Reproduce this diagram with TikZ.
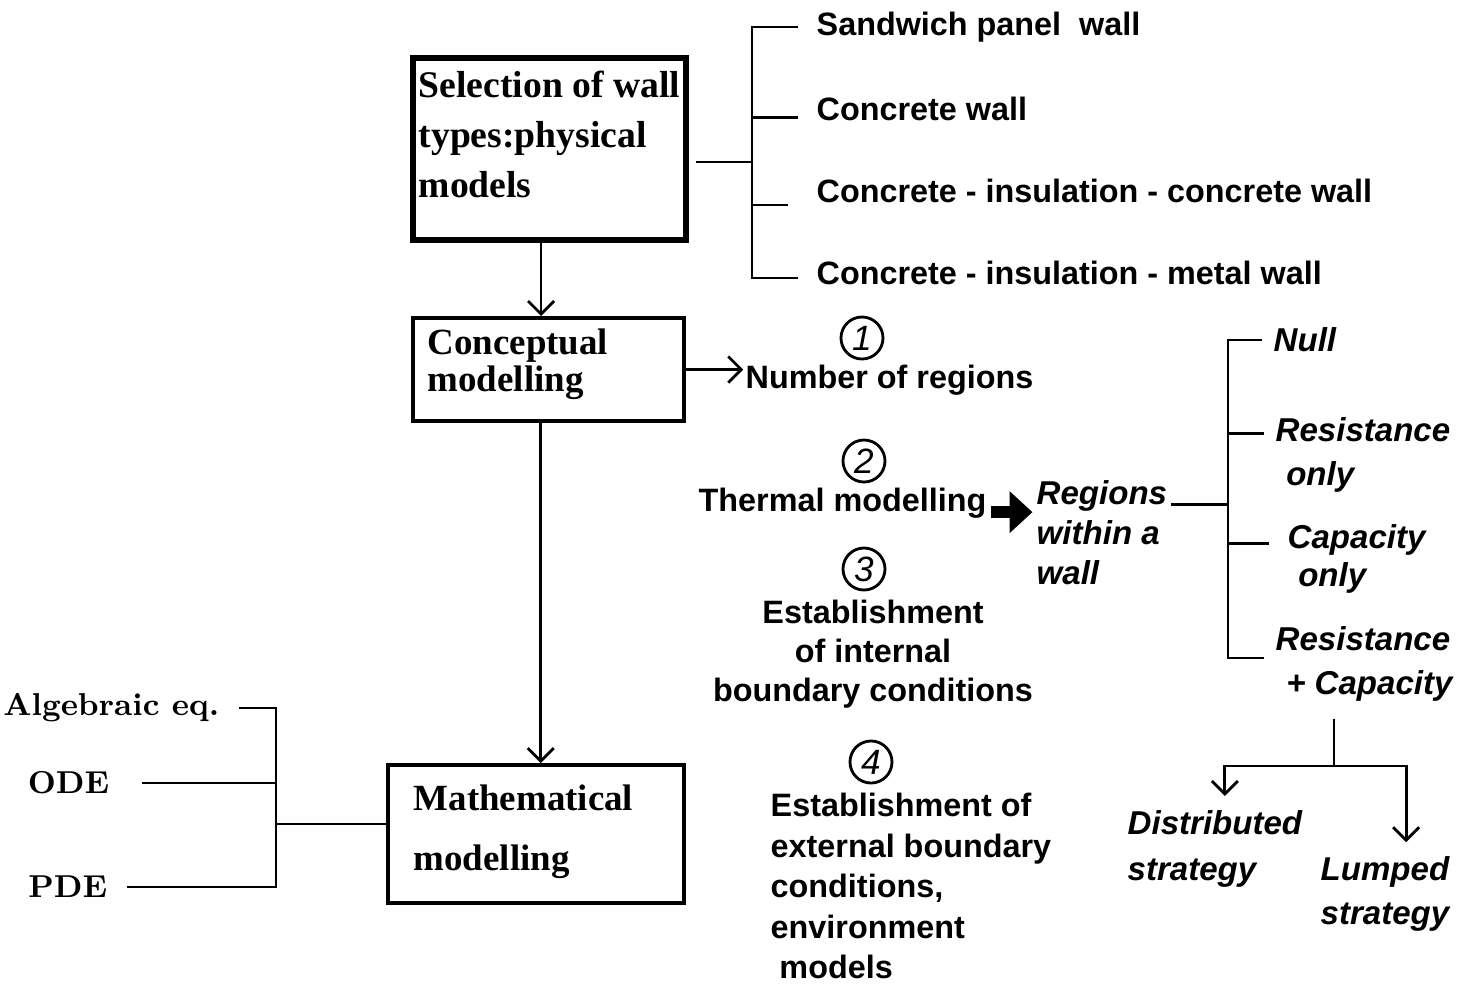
\documentclass[tikz,border=0pt]{standalone}
\usepackage{fontspec}
\newfontfamily\boxfont{Liberation Serif}
\newfontfamily\labfont{Liberation Sans}
\usetikzlibrary{arrows.meta}

\begin{document}
\begin{tikzpicture}[x=0.01cm, y=-0.01cm,
  conn/.style={line width=0.8pt},
  arr/.style={conn, -{Straight Barb[length=1.3mm,width=2.6mm]}},
  fatarr/.style={line width=3.6pt, -{Triangle[length=6.5pt,width=11.5pt]}},
  boxframe/.style={draw, line width=1.1pt, inner sep=0pt},
  boxtext/.style={font=\boxfont\bfseries\fontsize{10.5}{14}\selectfont, align=left, inner sep=0pt, anchor=west},
  lefttext/.style={font=\bfseries\fontsize{9}{11}\selectfont, inner sep=0pt, anchor=east},
  sanslabel/.style={font=\labfont\bfseries\fontsize{9.2}{11.5}\selectfont, inner sep=0pt},
  italabel/.style={font=\labfont\bfseries\itshape\fontsize{9.4}{12.3}\selectfont, inner sep=0pt, align=left, anchor=west},
  numcircle/.style={draw, circle, line width=0.8pt, minimum size=0.42cm, inner sep=0pt, font=\labfont\itshape\fontsize{10}{10}\selectfont}]
\useasboundingbox (0,0) rectangle (1468,993);

% the three model boxes
\node[boxframe, line width=1.6pt, minimum width=2.73cm, minimum height=1.82cm] (sel) at (549.5,149) {};
\node[boxtext, font=\boxfont\bfseries\fontsize{10.7}{14.2}\selectfont] (seltext) at (418,134) {Selection of wall\\types:physical\\models};
\node[boxframe, minimum width=2.71cm, minimum height=1.03cm] (concept) at (548.5,369.5) {};
\node[boxtext, font=\boxfont\bfseries\fontsize{10.5}{10.6}\selectfont] (concepttext) at (427,364) {Conceptual\\modelling};
\node[boxframe, minimum width=2.96cm, minimum height=1.38cm] (math) at (536,834) {};
\node[boxtext, font=\boxfont\bfseries\fontsize{10.5}{17}\selectfont] (mathtext) at (413,832) {Mathematical\\modelling};

\draw[arr] ([xshift=-2.4pt]sel.south) -- ([xshift=-2.4pt]sel.south |- concept.north);
\draw[arr] ([xshift=-2.2pt]concept.south) -- ([xshift=-2.2pt]concept.south |- math.north);

% wall types
\node[sanslabel, anchor=west] (sandwich) at (816,27) {Sandwich panel\ \ wall};
\node[sanslabel, anchor=west] (cwall) at (816,109) {Concrete wall};
\node[sanslabel, anchor=west] (cic) at (816,191) {Concrete - insulation - concrete wall};
\node[sanslabel, anchor=west] (cim) at (816,273) {Concrete - insulation - metal wall};
\coordinate (wsp) at (752,162);
\draw[conn] ([xshift=2pt]sel.east |- wsp) -- (wsp);
\draw[conn] ([xshift=-5pt]sandwich.west) -| ([yshift=-1.4pt]cim.west -| wsp) -- ([xshift=-5pt,yshift=-1.4pt]cim.west);
\draw[conn] ([xshift=-5pt,yshift=-2.3pt]cwall.west) -- ([yshift=-2.3pt]cwall.west -| wsp);
\draw[conn] ([xshift=-8pt,yshift=-4pt]cic.west) -- ([yshift=-4pt]cic.west -| wsp);

% equation types
\node[lefttext] (alg) at (220,708) {Algebraic eq.};
\node[lefttext] (ode) at (110,783) {ODE};
\node[lefttext] (pde) at (108,887) {PDE};
\coordinate (lsp) at (276,824);
\draw[conn] ([xshift=5.5pt]alg.east) -| (lsp |- pde) -- ([xshift=5.5pt]pde.east);
\draw[conn] ([xshift=9pt]ode.east) -- (ode -| lsp);
\draw[conn] (lsp) -- (lsp -| math.west);

% modelling steps
\node[numcircle] (one) at (862,338) {1};
\node[sanslabel, anchor=west] (nregions) at (745,380) {Number of regions};
\draw[arr] (concept.east) -- ([xshift=-0.5pt]concept.east -| nregions.west);
\node[numcircle] (two) at (864,461) {2};
\node[sanslabel, anchor=west] (thermal) at (698,503) {Thermal modelling};
\node[numcircle] (three) at (864,569) {3};
\node[sanslabel, align=center, font=\labfont\bfseries\fontsize{9.2}{11}\selectfont] (internal) at (873,654) {Establishment\\of internal\\boundary conditions};
\node[numcircle] (four) at (871,762) {4};
\node[sanslabel, align=left, anchor=west, font=\labfont\bfseries\fontsize{9.2}{11.5}\selectfont] (external) at (770,886) {Establishment of\\external boundary\\conditions,\\environment\\\hspace{2.5pt}models};

% regions within a wall
\node[italabel, font=\labfont\bfseries\itshape\fontsize{9.4}{11.4}\selectfont] (regions) at (1036,533) {Regions\\within a\\wall};
\draw[fatarr] ([xshift=1pt,yshift=-2.6pt]thermal.east) -- ([xshift=-1pt,yshift=-2.6pt]thermal.east -| regions.west);
\node[italabel] (null) at (1273,340) {Null};
\node[italabel, font=\labfont\bfseries\itshape\fontsize{9.4}{12.5}\selectfont] (res) at (1275,455) {Resistance\\\hspace{3pt}only};
\node[italabel, font=\labfont\bfseries\itshape\fontsize{9.4}{10.8}\selectfont] (cap) at (1287,559) {Capacity\\\hspace{3pt}only};
\node[italabel] (rc) at (1275,664) {Resistance\\\hspace{3pt}+ Capacity};
\coordinate (rsp) at (1228,500);
\draw[conn] ([xshift=1pt,yshift=8pt]regions.east) -- ([yshift=8pt]regions.east -| rsp);
\draw[conn] ([xshift=-3pt]null.west) -| ([yshift=1.7pt]rc.west -| rsp) -- ([xshift=-3pt,yshift=1.7pt]rc.west);
\draw[conn] ([xshift=-3pt,yshift=6.2pt]res.west) -- ([yshift=6.2pt]res.west -| rsp);
\draw[conn] ([xshift=-5pt,yshift=4.5pt]cap.west) -- ([yshift=4.5pt]cap.west -| rsp);

% strategies
\node[italabel, font=\labfont\bfseries\itshape\fontsize{9.4}{13}\selectfont] (dist) at (1127,849) {Distributed\\strategy};
\node[italabel] (lumped) at (1320,894) {Lumped\\strategy};
\coordinate (split) at (1334,766);
\draw[conn] ([yshift=-5pt]rc.south -| split) -- (split);
\draw[arr] (split) -| ([xshift=2.8pt,yshift=4pt]dist.north);
\draw[arr] (split) -| ([xshift=6pt,yshift=4pt]lumped.north);
\end{tikzpicture}
\end{document}
